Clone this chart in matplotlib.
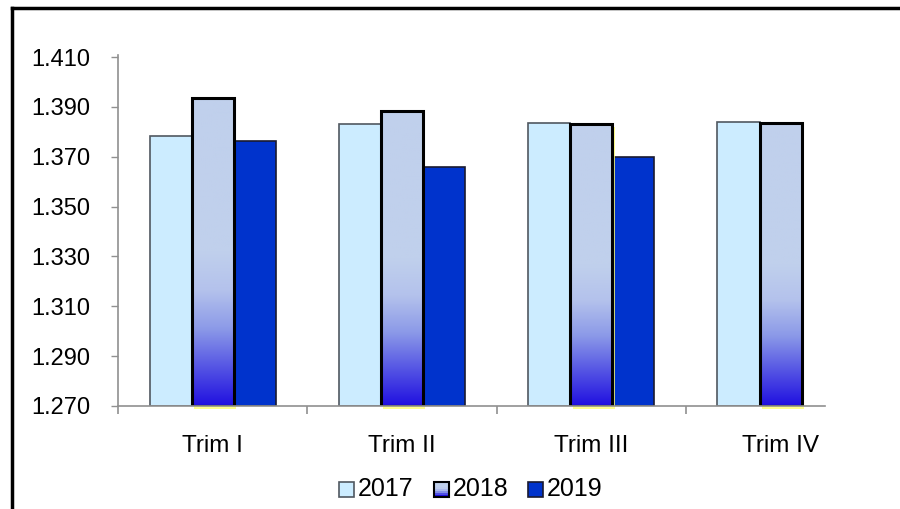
import numpy as np
import matplotlib
matplotlib.use("Agg")
import matplotlib.pyplot as plt
from matplotlib.patches import Rectangle
from matplotlib.legend_handler import HandlerBase
import matplotlib.transforms as mtransforms
from matplotlib.colors import LinearSegmentedColormap

plt.rcParams['font.family'] = ['Liberation Sans', 'DejaVu Sans']

categories = ["Trim I", "Trim II", "Trim III", "Trim IV"]
years = ["2017", "2018", "2019"]
v2017 = [1.3783, 1.3831, 1.3835, 1.3839]
v2018 = [1.3936, 1.3883, 1.3831, 1.3835]
v2019 = [1.3763, 1.3659, 1.3699, None]
yticks = [1.270, 1.290, 1.310, 1.330, 1.350, 1.370, 1.390, 1.410]

BASE = 1.270
W = 0.222

fig = plt.figure(figsize=(9, 5.09), dpi=100)
ax = fig.add_axes([118/900, 1 - 406/509, (825-118)/900, 349/509 * (0.141/0.14)])
ax.set_ylim(BASE, 1.411)
ax.set_xlim(-0.5, 3.235)

x = np.arange(len(categories))

c2017 = '#CCECFF'
c2019 = '#0033CC'
grad = LinearSegmentedColormap.from_list('g', [(0.0, '#2010E0'), (0.25, '#5555E4'), (0.5, '#8C9AE8'), (0.75, '#B4C2EC'), (1.0, '#C0D0EC')])

# 2017
ax.bar(x - W, [v - BASE for v in v2017], W, bottom=BASE, color=c2017,
       edgecolor='#505860', linewidth=1.2, zorder=2)

# 2019
xs19 = [xi + W for xi, v in zip(x, v2019) if v is not None]
vs19 = [v - BASE for v in v2019 if v is not None]
ax.bar(xs19, vs19, W, bottom=BASE, color=c2019, edgecolor='#1a1a30', linewidth=1.2, zorder=2)

# 2018 with yellow glow and gradient
shadow = mtransforms.offset_copy(ax.transData, fig=fig, x=2.5, y=-2.5, units='dots')
for xi, v in zip(x, v2018):
    ax.add_patch(Rectangle((xi - W/2, BASE), W, v - BASE, facecolor='#FFFF70',
                           edgecolor='none', alpha=0.8, transform=shadow, zorder=2.5,
                           clip_on=False))
bars18 = ax.bar(x, [v - BASE for v in v2018], W, bottom=BASE, color='none',
                edgecolor='black', linewidth=2.2, zorder=4)
gimg = np.linspace(0, 1, 256).reshape(-1, 1)
gimg = np.clip(gimg * 2, 0, 1)  # gradient over bottom half
for b, v in zip(bars18, v2018):
    xl = b.get_x()
    im = ax.imshow(gimg, cmap=grad, origin='lower', aspect='auto',
                   extent=(xl, xl + W, BASE, v), zorder=3, interpolation='bilinear')
    rect = Rectangle((xl, BASE), W, v - BASE, transform=ax.transData)
    im.set_clip_path(rect)
ax.set_xlim(-0.5, 3.235)
ax.set_ylim(BASE, 1.411)

# axes styling
for s in ['top', 'right']:
    ax.spines[s].set_visible(False)
for s in ['left', 'bottom']:
    ax.spines[s].set_color('#909090')
    ax.spines[s].set_linewidth(1.2)
ax.spines['bottom'].set_zorder(5)

ax.set_yticks(yticks)
ax.set_yticklabels([f"{t:.3f}" for t in yticks], fontsize=17)
ax.tick_params(axis='y', length=5, width=1, color='#909090', pad=15, direction='out')

ax.set_xticks(x)
ax.set_xticklabels(categories, fontsize=17.5)
ax.tick_params(axis='x', which='major', length=0, pad=21)
ax.set_xticks([-0.5, 0.5, 1.5, 2.5], minor=True)
ax.tick_params(axis='x', which='minor', length=6, width=1.2, color='#909090', direction='out')


class GradHandler(HandlerBase):
    def create_artists(self, legend, orig, xd, yd, width, height, fontsize, trans):
        s = height
        x0 = xd + (width - s)
        arts = []
        n = 8
        for i in range(n):
            frac = i / (n - 1)
            col = grad(min(1.0, frac * 1.6))
            r = Rectangle((x0, yd + s * i / n), s, s / n, facecolor=col, edgecolor='none', transform=trans)
            arts.append(r)
        arts.append(Rectangle((x0, yd), s, s, facecolor='none', edgecolor='black', lw=1.5, transform=trans))
        return arts


class SquareHandler(HandlerBase):
    def __init__(self, fc, ec):
        super().__init__()
        self.fc, self.ec = fc, ec

    def create_artists(self, legend, orig, xd, yd, width, height, fontsize, trans):
        s = height
        x0 = xd + (width - s)
        return [Rectangle((x0, yd), s, s, facecolor=self.fc, edgecolor=self.ec, lw=1.2, transform=trans)]


h1 = Rectangle((0, 0), 1, 1)
h2 = Rectangle((0, 0), 1, 1)
h3 = Rectangle((0, 0), 1, 1)
leg = ax.legend([h1, h2, h3], years, loc='center', bbox_to_anchor=(0.5, -0.235),
                ncol=3, frameon=False, fontsize=18, handlelength=0.55, handleheight=0.55,
                handletextpad=0.15, columnspacing=0.85,
                handler_map={h1: SquareHandler(c2017, '#505860'), h2: GradHandler(),
                             h3: SquareHandler(c2019, '#1a1a30')})

# outer frame lines (top and left)
fig.add_artist(plt.Line2D([12/900, 1.0], [1 - 8/509, 1 - 8/509], color='black', lw=2.5,
                          transform=fig.transFigure))
fig.add_artist(plt.Line2D([12/900, 12/900], [0, 1 - 8/509], color='black', lw=2.5,
                          transform=fig.transFigure))

fig.savefig('out.png', dpi=100)
